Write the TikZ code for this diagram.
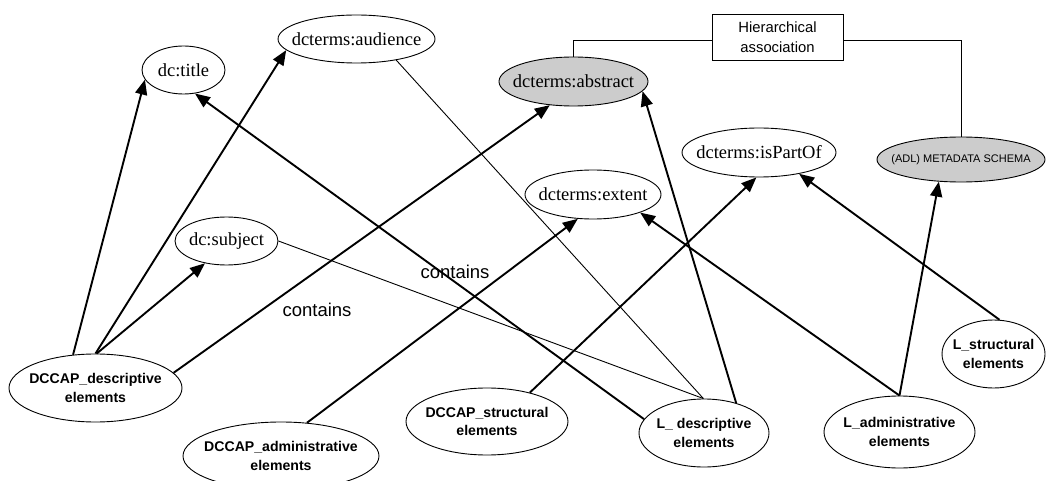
\documentclass[tikz,border=0pt]{standalone}
\usepackage{fontspec}
\setmainfont{Liberation Serif}
\setsansfont{Liberation Sans}
\usetikzlibrary{arrows.meta,shapes.geometric}
\definecolor{schemagray}{RGB}{204,204,204}
\begin{document}
\begin{tikzpicture}[x=1pt,y=-1pt,
  oval/.style 2 args={ellipse,draw,line width=0.9pt,inner sep=0pt,
    minimum width=#1,minimum height=#2},
  shaded/.style={fill=schemagray},
  termtext/.style={font=\fontsize{18.5}{20}\selectfont},
  elemtext/.style={font=\sffamily\bfseries\fontsize{14.1}{18.5}\selectfont,align=center},
  schematext/.style={font=\sffamily\fontsize{11}{13}\selectfont},
  relation/.style={font=\sffamily\fontsize{18.5}{20}\selectfont},
  arrowline/.style={line width=1.9pt,-{Triangle[length=15pt,width=12pt]}},
  thinline/.style={line width=0.9pt}]
\useasboundingbox (0,0) rectangle (1047,481);

% Dublin Core terms
\node[oval={83}{48},label={[termtext]center:{dc:title}}] (title) at (183.5,70) {};
\node[oval={157}{48},label={[termtext]center:{dcterms:audience}}] (audience) at (356.5,39) {};
\node[oval={149}{49},shaded,label={[termtext]center:{dcterms:abstract}}] (abstract) at (573.5,81.5) {};
\node[oval={136}{49},label={[termtext]center:{dcterms:extent}}] (extent) at (593,194.5) {};
\node[oval={154}{49},label={[termtext]center:{dcterms:isPartOf}}] (ispartof) at (759,152.5) {};
\node[oval={168}{45},shaded,label={[schematext]center:{(ADL) METADATA SCHEMA}}] (schema) at (961,159.5) {};
\node[oval={103}{48},label={[termtext]center:{dc:subject}}] (subject) at (226.5,241) {};

% element groups
\node[oval={173}{68},label={[elemtext]center:{DCCAP\_descriptive\\elements}}] (dccapdesc) at (95.5,388) {};
\node[oval={196}{68},label={[elemtext]center:{DCCAP\_administrative\\elements}}] (dccapadmin) at (281,456) {};
\node[oval={162}{67},label={[elemtext]center:{DCCAP\_structural\\elements}}] (dccapstruct) at (487,421.5) {};
\node[oval={130}{68},label={[elemtext]center:{L\_ descriptive\\elements}}] (ldesc) at (704,433) {};
\node[oval={151}{72},label={[elemtext]center:{L\_administrative\\elements}}] (ladmin) at (899.5,432) {};
\node[oval={103}{68},label={[elemtext]center:{L\_structural\\elements}}] (lstruct) at (993.5,354) {};

% hierarchical association box
\node[draw,line width=0.9pt,minimum width=131pt,minimum height=46pt,inner sep=0pt,
  align=center,font=\sffamily\fontsize{14.8}{20}\selectfont] (hier) at (777.5,37)
  {Hierarchical\\association};
\draw[thinline] (abstract.north) |- ([yshift=-3pt]hier.west);
\draw[thinline] ([yshift=-3pt]hier.east) -| (schema.north);

% relation labels
\node[relation] (contains1) at (317,310) {contains};
\node[relation] (contains2) at (455,272) {contains};

% containment arrows
\draw[arrowline] (dccapdesc.124) -- (title.194);
\draw[arrowline] (dccapdesc.90) -- (audience.189);
\draw[arrowline] (dccapdesc.88) -- (subject.226);
\draw[arrowline] (dccapdesc.11) -- (abstract.225);
\draw[arrowline] (dccapadmin.52) -- (extent.238);
\draw[arrowline] (dccapstruct.34) -- (ispartof.264);
\draw[arrowline] (ldesc.167) -- (title.296);
\draw[arrowline] (ldesc.43) -- (abstract.352);
\draw[arrowline] (ladmin.90) -- (extent.339);
\draw[arrowline] (ladmin.90) -- (schema.225);
\draw[arrowline] (lstruct.80) -- (ispartof.332);

% plain links
\draw[thinline] (audience.332) -- (ldesc.91);
\draw[thinline] (subject.0) -- (ldesc.91);
\end{tikzpicture}
\end{document}
